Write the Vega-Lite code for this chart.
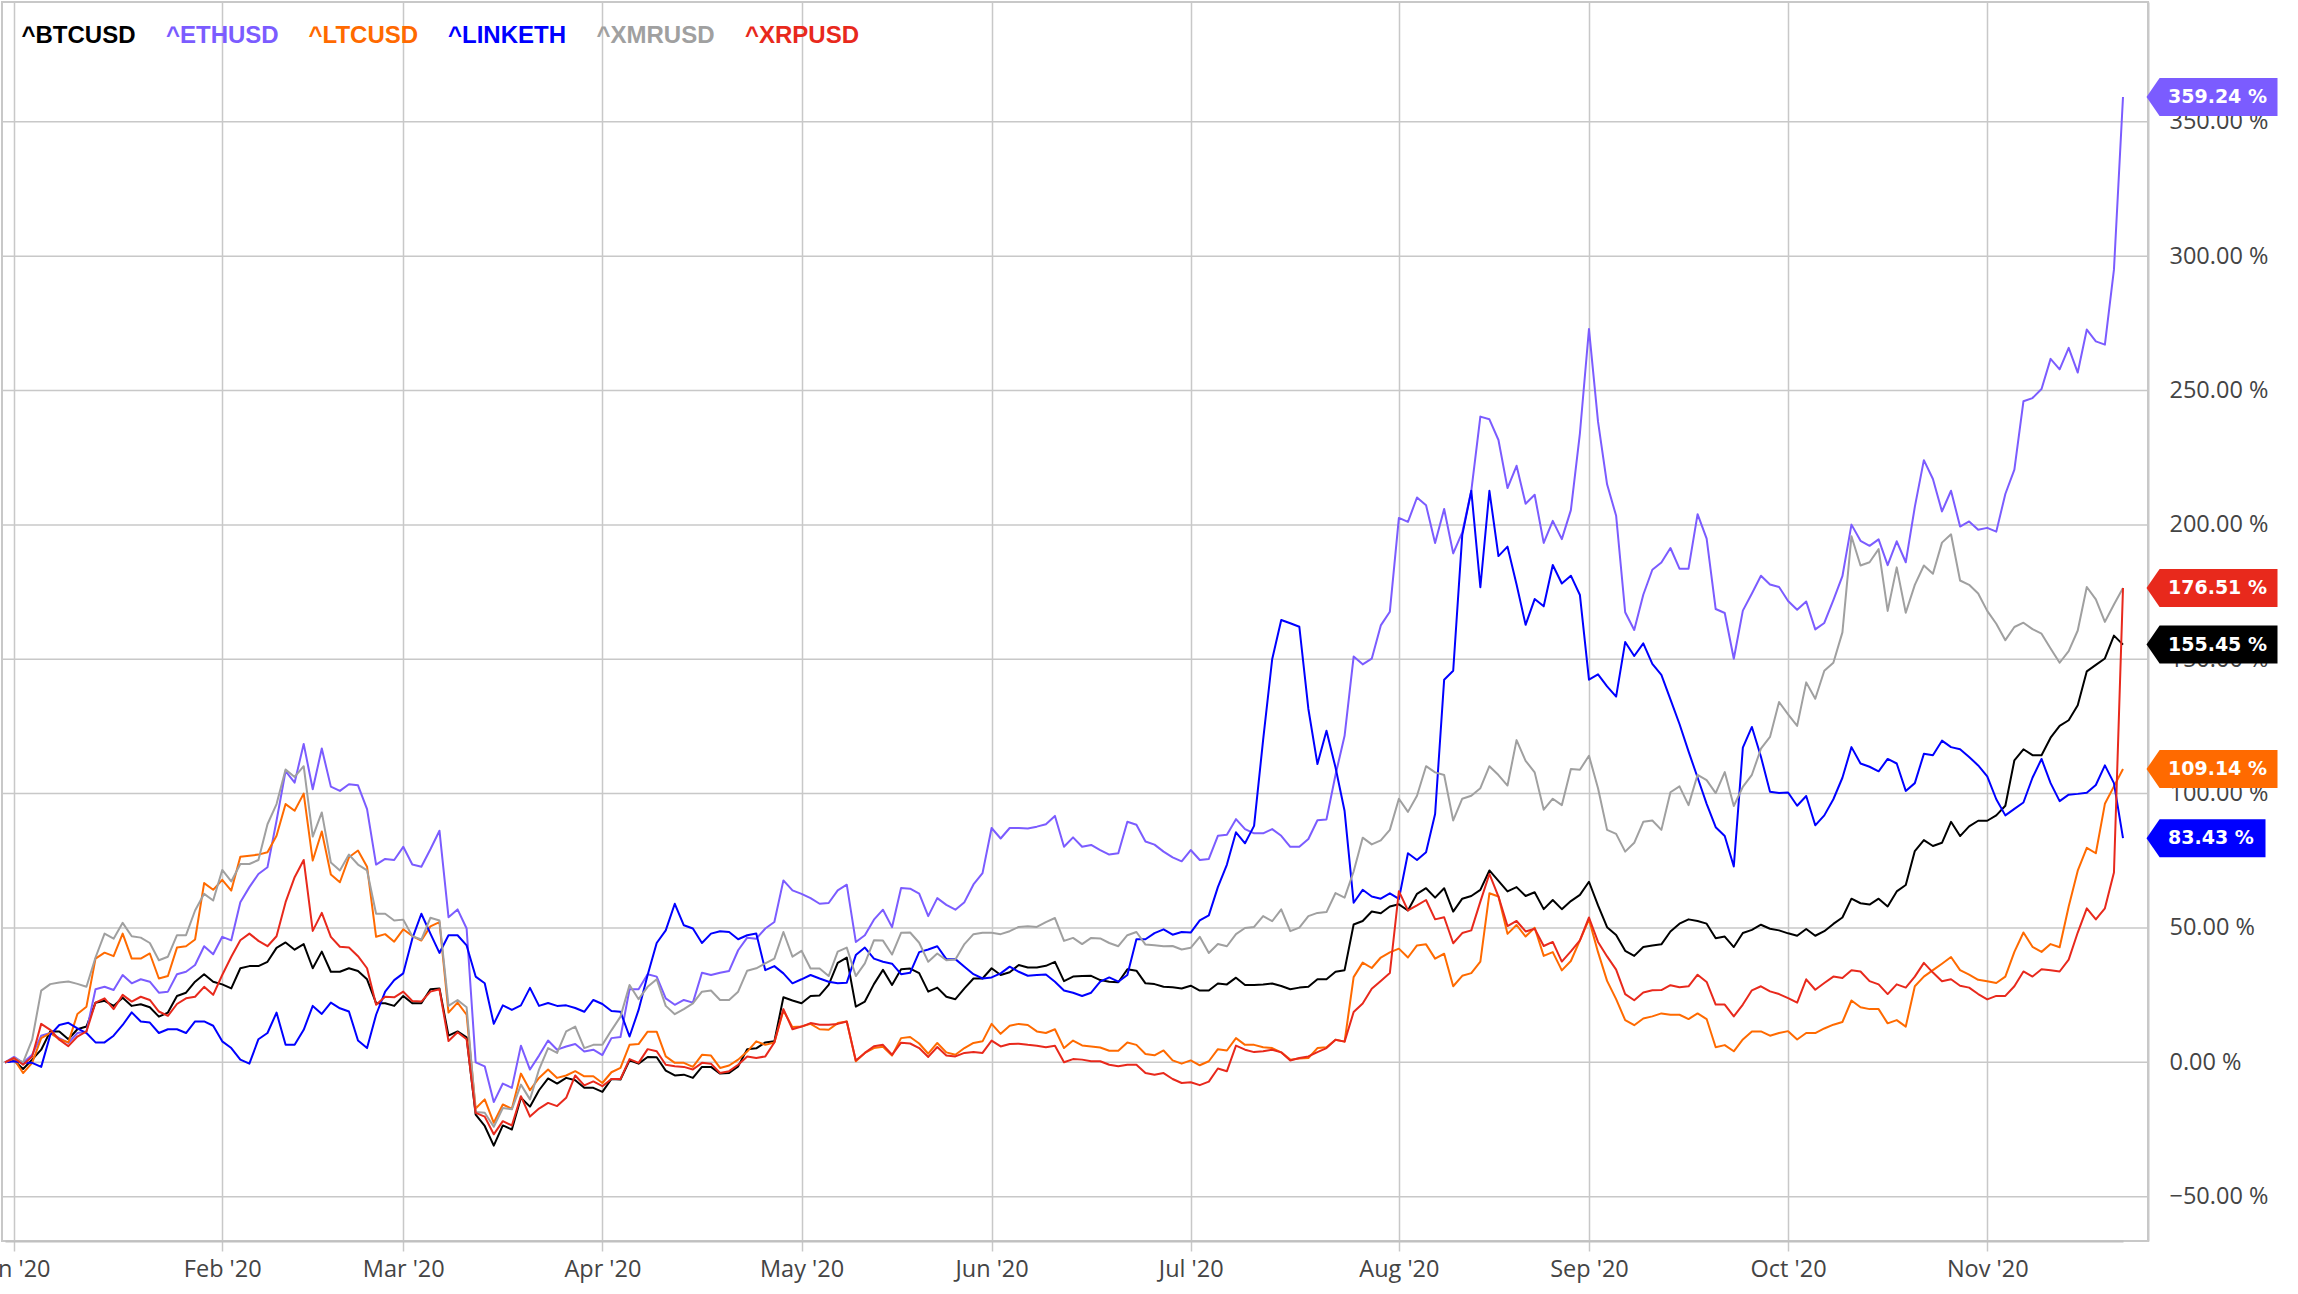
{
"$schema": "https://vega.github.io/schema/vega-lite/v6.json",
"width": 2146,
"height": 1239,
"autosize": {"type": "none"},
"padding": {"left": 2, "top": 2, "right": 150, "bottom": 53},
"background": "white",
"config": {"view": {"stroke": "#c8c8c8", "strokeWidth": 2}, "font": "Open Sans", "scale": {"pointPadding": 0}},
"data": {"values": [
{"d":"2019-12-31","BTCUSD":0,"ETHUSD":0,"LTCUSD":0,"LINKETH":0,"XMRUSD":0,"XRPUSD":0},
{"d":"2020-01-01","BTCUSD":0.7,"ETHUSD":2,"LTCUSD":1.2,"LINKETH":0.4,"XMRUSD":1.6,"XRPUSD":1.6},
{"d":"2020-01-02","BTCUSD":-2.5,"ETHUSD":-0.2,"LTCUSD":-4,"LINKETH":-0.2,"XMRUSD":0,"XRPUSD":-0.9},
{"d":"2020-01-03","BTCUSD":1,"ETHUSD":2.8,"LTCUSD":-0.2,"LINKETH":-0.2,"XMRUSD":8.4,"XRPUSD":2.2},
{"d":"2020-01-06","BTCUSD":4.7,"ETHUSD":9.9,"LTCUSD":9,"LINKETH":-1.7,"XMRUSD":26.7,"XRPUSD":14.3},
{"d":"2020-01-07","BTCUSD":11.5,"ETHUSD":10.9,"LTCUSD":10.9,"LINKETH":10.2,"XMRUSD":29.1,"XRPUSD":12.1},
{"d":"2020-01-08","BTCUSD":11.5,"ETHUSD":9,"LTCUSD":8.6,"LINKETH":13.9,"XMRUSD":29.7,"XRPUSD":8.4},
{"d":"2020-01-09","BTCUSD":8.6,"ETHUSD":7.2,"LTCUSD":7.4,"LINKETH":14.7,"XMRUSD":30.1,"XRPUSD":6},
{"d":"2020-01-10","BTCUSD":12.3,"ETHUSD":10.9,"LTCUSD":18,"LINKETH":12.6,"XMRUSD":29.2,"XRPUSD":9.6},
{"d":"2020-01-13","BTCUSD":13.3,"ETHUSD":11.5,"LTCUSD":20.7,"LINKETH":10.9,"XMRUSD":28.1,"XRPUSD":11.5},
{"d":"2020-01-14","BTCUSD":22.2,"ETHUSD":27.2,"LTCUSD":38.6,"LINKETH":7.4,"XMRUSD":39,"XRPUSD":22.2},
{"d":"2020-01-15","BTCUSD":22.9,"ETHUSD":28.1,"LTCUSD":40.8,"LINKETH":7.4,"XMRUSD":47.9,"XRPUSD":23.8},
{"d":"2020-01-16","BTCUSD":21,"ETHUSD":26.9,"LTCUSD":39.5,"LINKETH":9.9,"XMRUSD":46,"XRPUSD":19.8},
{"d":"2020-01-17","BTCUSD":24,"ETHUSD":32.5,"LTCUSD":47.9,"LINKETH":13.9,"XMRUSD":51.9,"XRPUSD":25.1},
{"d":"2020-01-20","BTCUSD":21,"ETHUSD":29.4,"LTCUSD":38.6,"LINKETH":18.6,"XMRUSD":46.9,"XRPUSD":22.6},
{"d":"2020-01-21","BTCUSD":21.6,"ETHUSD":30.9,"LTCUSD":38.6,"LINKETH":15.2,"XMRUSD":46.4,"XRPUSD":24.4},
{"d":"2020-01-22","BTCUSD":20.5,"ETHUSD":30,"LTCUSD":40.5,"LINKETH":14.8,"XMRUSD":44.4,"XRPUSD":23.2},
{"d":"2020-01-23","BTCUSD":17,"ETHUSD":25.9,"LTCUSD":31.2,"LINKETH":10.9,"XMRUSD":38,"XRPUSD":18.9},
{"d":"2020-01-24","BTCUSD":18.5,"ETHUSD":26.3,"LTCUSD":32.1,"LINKETH":12.3,"XMRUSD":39.3,"XRPUSD":17.3},
{"d":"2020-01-27","BTCUSD":24.7,"ETHUSD":32.8,"LTCUSD":42.7,"LINKETH":12.3,"XMRUSD":47.3,"XRPUSD":21.7},
{"d":"2020-01-28","BTCUSD":25.9,"ETHUSD":33.7,"LTCUSD":43.2,"LINKETH":10.9,"XMRUSD":47.3,"XRPUSD":23.8},
{"d":"2020-01-29","BTCUSD":30,"ETHUSD":36.2,"LTCUSD":45.7,"LINKETH":15.2,"XMRUSD":56.5,"XRPUSD":24.4},
{"d":"2020-01-30","BTCUSD":32.8,"ETHUSD":43.2,"LTCUSD":66.7,"LINKETH":15.2,"XMRUSD":62.7,"XRPUSD":28.1},
{"d":"2020-01-31","BTCUSD":30,"ETHUSD":40.2,"LTCUSD":64.2,"LINKETH":13.6,"XMRUSD":60.2,"XRPUSD":25.1},
{"d":"2020-02-03","BTCUSD":29,"ETHUSD":46.7,"LTCUSD":67.9,"LINKETH":7.8,"XMRUSD":71.6,"XRPUSD":32.5},
{"d":"2020-02-04","BTCUSD":27.5,"ETHUSD":45.4,"LTCUSD":63.9,"LINKETH":5.3,"XMRUSD":67.3,"XRPUSD":39.3},
{"d":"2020-02-05","BTCUSD":35,"ETHUSD":59.6,"LTCUSD":76.5,"LINKETH":1,"XMRUSD":73.8,"XRPUSD":45.4},
{"d":"2020-02-06","BTCUSD":35.8,"ETHUSD":65.2,"LTCUSD":76.9,"LINKETH":-0.5,"XMRUSD":73.8,"XRPUSD":47.9},
{"d":"2020-02-07","BTCUSD":35.8,"ETHUSD":70.1,"LTCUSD":77.3,"LINKETH":8.6,"XMRUSD":75.3,"XRPUSD":45.2},
{"d":"2020-02-10","BTCUSD":37.4,"ETHUSD":72.6,"LTCUSD":78.2,"LINKETH":10.9,"XMRUSD":88.6,"XRPUSD":43.2},
{"d":"2020-02-11","BTCUSD":42.6,"ETHUSD":89.9,"LTCUSD":84.3,"LINKETH":18.5,"XMRUSD":96.1,"XRPUSD":46.9},
{"d":"2020-02-12","BTCUSD":44.6,"ETHUSD":108.4,"LTCUSD":96.1,"LINKETH":6.5,"XMRUSD":109,"XRPUSD":59.6},
{"d":"2020-02-13","BTCUSD":41.9,"ETHUSD":104.1,"LTCUSD":93.6,"LINKETH":6.5,"XMRUSD":106.2,"XRPUSD":68.9},
{"d":"2020-02-14","BTCUSD":44,"ETHUSD":118.5,"LTCUSD":100,"LINKETH":12.1,"XMRUSD":110.2,"XRPUSD":75.3},
{"d":"2020-02-17","BTCUSD":35,"ETHUSD":101.6,"LTCUSD":75.1,"LINKETH":21,"XMRUSD":84,"XRPUSD":48.9},
{"d":"2020-02-18","BTCUSD":41.2,"ETHUSD":116.8,"LTCUSD":85.9,"LINKETH":18,"XMRUSD":93,"XRPUSD":55.6},
{"d":"2020-02-19","BTCUSD":33.7,"ETHUSD":102.6,"LTCUSD":69.9,"LINKETH":22.2,"XMRUSD":74.4,"XRPUSD":46.7},
{"d":"2020-02-20","BTCUSD":33.7,"ETHUSD":101,"LTCUSD":67,"LINKETH":20.1,"XMRUSD":71.4,"XRPUSD":43},
{"d":"2020-02-21","BTCUSD":35,"ETHUSD":103.5,"LTCUSD":76.3,"LINKETH":18.9,"XMRUSD":77.3,"XRPUSD":42.7},
{"d":"2020-02-24","BTCUSD":34,"ETHUSD":103.1,"LTCUSD":78.8,"LINKETH":8.1,"XMRUSD":73.6,"XRPUSD":39.5},
{"d":"2020-02-25","BTCUSD":30.9,"ETHUSD":94.2,"LTCUSD":72.8,"LINKETH":5.3,"XMRUSD":71.4,"XRPUSD":35},
{"d":"2020-02-26","BTCUSD":22,"ETHUSD":73.6,"LTCUSD":46.7,"LINKETH":17.7,"XMRUSD":55.3,"XRPUSD":21.4},
{"d":"2020-02-27","BTCUSD":22,"ETHUSD":75.7,"LTCUSD":47.7,"LINKETH":26.3,"XMRUSD":55.3,"XRPUSD":24.4},
{"d":"2020-02-28","BTCUSD":21,"ETHUSD":75.3,"LTCUSD":44.9,"LINKETH":30.6,"XMRUSD":52.8,"XRPUSD":24.2},
{"d":"2020-03-02","BTCUSD":24.7,"ETHUSD":80.2,"LTCUSD":49.5,"LINKETH":33.1,"XMRUSD":53.1,"XRPUSD":26.3},
{"d":"2020-03-03","BTCUSD":22,"ETHUSD":73.6,"LTCUSD":47,"LINKETH":46,"XMRUSD":46.9,"XRPUSD":22.8},
{"d":"2020-03-04","BTCUSD":22,"ETHUSD":72.8,"LTCUSD":45.3,"LINKETH":55.3,"XMRUSD":45.7,"XRPUSD":22.6},
{"d":"2020-03-05","BTCUSD":27.2,"ETHUSD":79.3,"LTCUSD":50.6,"LINKETH":47.9,"XMRUSD":53.8,"XRPUSD":26.3},
{"d":"2020-03-06","BTCUSD":27.5,"ETHUSD":86.2,"LTCUSD":52.2,"LINKETH":40.7,"XMRUSD":52.8,"XRPUSD":27.2},
{"d":"2020-03-09","BTCUSD":9.9,"ETHUSD":54,"LTCUSD":18.5,"LINKETH":47.3,"XMRUSD":21,"XRPUSD":7.9},
{"d":"2020-03-10","BTCUSD":11.5,"ETHUSD":56.9,"LTCUSD":22.2,"LINKETH":47.3,"XMRUSD":23.2,"XRPUSD":11.2},
{"d":"2020-03-11","BTCUSD":9.3,"ETHUSD":49.8,"LTCUSD":17.7,"LINKETH":43.5,"XMRUSD":20.5,"XRPUSD":8.6},
{"d":"2020-03-12","BTCUSD":-19.5,"ETHUSD":0,"LTCUSD":-17.2,"LINKETH":31.9,"XMRUSD":-18.5,"XRPUSD":-18.8},
{"d":"2020-03-13","BTCUSD":-23.7,"ETHUSD":-1.5,"LTCUSD":-13.8,"LINKETH":29.4,"XMRUSD":-18.8,"XRPUSD":-20.2},
{"d":"2020-03-16","BTCUSD":-31,"ETHUSD":-14.8,"LTCUSD":-22.5,"LINKETH":14.3,"XMRUSD":-24,"XRPUSD":-26.8},
{"d":"2020-03-17","BTCUSD":-23.5,"ETHUSD":-7.9,"LTCUSD":-15.7,"LINKETH":21.2,"XMRUSD":-17,"XRPUSD":-21.9},
{"d":"2020-03-18","BTCUSD":-25,"ETHUSD":-9.5,"LTCUSD":-17.3,"LINKETH":19.5,"XMRUSD":-17.5,"XRPUSD":-23.5},
{"d":"2020-03-19","BTCUSD":-13.2,"ETHUSD":6.2,"LTCUSD":-4.2,"LINKETH":21.2,"XMRUSD":-8.3,"XRPUSD":-12.6},
{"d":"2020-03-20","BTCUSD":-16.5,"ETHUSD":-2.7,"LTCUSD":-10.4,"LINKETH":27.7,"XMRUSD":-13.8,"XRPUSD":-20.2},
{"d":"2020-03-23","BTCUSD":-10.4,"ETHUSD":2.5,"LTCUSD":-5.8,"LINKETH":21,"XMRUSD":-2.7,"XRPUSD":-17.2},
{"d":"2020-03-24","BTCUSD":-6,"ETHUSD":8.1,"LTCUSD":-2.7,"LINKETH":22.1,"XMRUSD":5.3,"XRPUSD":-15.1},
{"d":"2020-03-25","BTCUSD":-7.9,"ETHUSD":4.7,"LTCUSD":-5.8,"LINKETH":21,"XMRUSD":3.5,"XRPUSD":-16.3},
{"d":"2020-03-26","BTCUSD":-5.8,"ETHUSD":5.9,"LTCUSD":-4.9,"LINKETH":21.2,"XMRUSD":11.5,"XRPUSD":-13.2},
{"d":"2020-03-27","BTCUSD":-6.7,"ETHUSD":6.8,"LTCUSD":-3.3,"LINKETH":20.2,"XMRUSD":13.3,"XRPUSD":-4.9},
{"d":"2020-03-30","BTCUSD":-9.5,"ETHUSD":4,"LTCUSD":-5.2,"LINKETH":18.8,"XMRUSD":5.3,"XRPUSD":-8.6},
{"d":"2020-03-31","BTCUSD":-9.5,"ETHUSD":4.7,"LTCUSD":-5.2,"LINKETH":23.2,"XMRUSD":6.5,"XRPUSD":-7.1},
{"d":"2020-04-01","BTCUSD":-11,"ETHUSD":2.7,"LTCUSD":-7.7,"LINKETH":21.7,"XMRUSD":6.5,"XRPUSD":-8.9},
{"d":"2020-04-02","BTCUSD":-6.2,"ETHUSD":9,"LTCUSD":-3.7,"LINKETH":19.1,"XMRUSD":11.9,"XRPUSD":-6.2},
{"d":"2020-04-03","BTCUSD":-6.4,"ETHUSD":9.4,"LTCUSD":-2.1,"LINKETH":18.8,"XMRUSD":17,"XRPUSD":-6.2},
{"d":"2020-04-06","BTCUSD":0.7,"ETHUSD":27.2,"LTCUSD":6.5,"LINKETH":9.6,"XMRUSD":28.8,"XRPUSD":1.2},
{"d":"2020-04-07","BTCUSD":-0.5,"ETHUSD":27.2,"LTCUSD":6.8,"LINKETH":19.5,"XMRUSD":23.5,"XRPUSD":-0.2},
{"d":"2020-04-08","BTCUSD":2,"ETHUSD":32.8,"LTCUSD":11.4,"LINKETH":32.5,"XMRUSD":28.1,"XRPUSD":4.9},
{"d":"2020-04-09","BTCUSD":1.9,"ETHUSD":31.9,"LTCUSD":11.4,"LINKETH":44.4,"XMRUSD":30.9,"XRPUSD":4.1},
{"d":"2020-04-10","BTCUSD":-3.1,"ETHUSD":23.8,"LTCUSD":2.2,"LINKETH":49.1,"XMRUSD":21,"XRPUSD":-0.9},
{"d":"2020-04-13","BTCUSD":-4.9,"ETHUSD":21.4,"LTCUSD":-0.2,"LINKETH":59,"XMRUSD":17.9,"XRPUSD":-1.5},
{"d":"2020-04-14","BTCUSD":-4.6,"ETHUSD":23.2,"LTCUSD":-0.2,"LINKETH":51,"XMRUSD":19.8,"XRPUSD":-1.7},
{"d":"2020-04-15","BTCUSD":-5.8,"ETHUSD":22.2,"LTCUSD":-1.7,"LINKETH":49.8,"XMRUSD":21.9,"XRPUSD":-2.7},
{"d":"2020-04-16","BTCUSD":-1.7,"ETHUSD":33.3,"LTCUSD":2.8,"LINKETH":44.4,"XMRUSD":26.3,"XRPUSD":-0.2},
{"d":"2020-04-17","BTCUSD":-1.7,"ETHUSD":32.5,"LTCUSD":2.5,"LINKETH":47.9,"XMRUSD":26.7,"XRPUSD":-0.5},
{"d":"2020-04-20","BTCUSD":-4.2,"ETHUSD":33.3,"LTCUSD":-2.1,"LINKETH":48.8,"XMRUSD":23.2,"XRPUSD":-4},
{"d":"2020-04-21","BTCUSD":-4,"ETHUSD":34,"LTCUSD":-1.2,"LINKETH":48.5,"XMRUSD":23.2,"XRPUSD":-3.3},
{"d":"2020-04-22","BTCUSD":-1.5,"ETHUSD":41.7,"LTCUSD":1,"LINKETH":45.8,"XMRUSD":26.3,"XRPUSD":-0.9},
{"d":"2020-04-23","BTCUSD":4.9,"ETHUSD":46.4,"LTCUSD":4,"LINKETH":47.3,"XMRUSD":34.1,"XRPUSD":2.2},
{"d":"2020-04-24","BTCUSD":5.2,"ETHUSD":46,"LTCUSD":7.8,"LINKETH":47.9,"XMRUSD":35,"XRPUSD":1.6},
{"d":"2020-04-27","BTCUSD":7.4,"ETHUSD":49.8,"LTCUSD":6.5,"LINKETH":34.3,"XMRUSD":36.8,"XRPUSD":2.2},
{"d":"2020-04-28","BTCUSD":7.8,"ETHUSD":52.2,"LTCUSD":7.4,"LINKETH":35.8,"XMRUSD":38.6,"XRPUSD":7.4},
{"d":"2020-04-29","BTCUSD":24.2,"ETHUSD":67.7,"LTCUSD":19.3,"LINKETH":33.1,"XMRUSD":48.5,"XRPUSD":19.8},
{"d":"2020-04-30","BTCUSD":23,"ETHUSD":64,"LTCUSD":13.1,"LINKETH":29.4,"XMRUSD":39.3,"XRPUSD":12.3},
{"d":"2020-05-01","BTCUSD":22,"ETHUSD":62.7,"LTCUSD":13.3,"LINKETH":30.9,"XMRUSD":41.5,"XRPUSD":13.3},
{"d":"2020-05-04","BTCUSD":24.7,"ETHUSD":61.1,"LTCUSD":14.3,"LINKETH":32.5,"XMRUSD":34.9,"XRPUSD":14.6},
{"d":"2020-05-05","BTCUSD":24.9,"ETHUSD":59,"LTCUSD":12.3,"LINKETH":31.2,"XMRUSD":34.9,"XRPUSD":14},
{"d":"2020-05-06","BTCUSD":28.8,"ETHUSD":59.3,"LTCUSD":12.1,"LINKETH":30,"XMRUSD":32.1,"XRPUSD":14},
{"d":"2020-05-07","BTCUSD":37,"ETHUSD":64,"LTCUSD":14.6,"LINKETH":29.4,"XMRUSD":41.2,"XRPUSD":14.3},
{"d":"2020-05-08","BTCUSD":39,"ETHUSD":66.1,"LTCUSD":15.2,"LINKETH":29.6,"XMRUSD":42.7,"XRPUSD":15.2},
{"d":"2020-05-11","BTCUSD":20.7,"ETHUSD":44.8,"LTCUSD":0.4,"LINKETH":39.9,"XMRUSD":32.1,"XRPUSD":0.7},
{"d":"2020-05-12","BTCUSD":22.6,"ETHUSD":47.3,"LTCUSD":3.5,"LINKETH":42.7,"XMRUSD":36.8,"XRPUSD":3.5},
{"d":"2020-05-13","BTCUSD":29.1,"ETHUSD":53.1,"LTCUSD":5.3,"LINKETH":38.6,"XMRUSD":45.4,"XRPUSD":6},
{"d":"2020-05-14","BTCUSD":34.4,"ETHUSD":56.8,"LTCUSD":5.8,"LINKETH":37.4,"XMRUSD":45.3,"XRPUSD":6.5},
{"d":"2020-05-15","BTCUSD":28.8,"ETHUSD":50.3,"LTCUSD":2.5,"LINKETH":36.7,"XMRUSD":40.1,"XRPUSD":2.8},
{"d":"2020-05-18","BTCUSD":34.6,"ETHUSD":64.9,"LTCUSD":9,"LINKETH":32.8,"XMRUSD":48.2,"XRPUSD":7.3},
{"d":"2020-05-19","BTCUSD":34.9,"ETHUSD":64.6,"LTCUSD":9.4,"LINKETH":33.3,"XMRUSD":48.3,"XRPUSD":7},
{"d":"2020-05-20","BTCUSD":33.2,"ETHUSD":62.8,"LTCUSD":7,"LINKETH":41,"XMRUSD":44.5,"XRPUSD":5.3},
{"d":"2020-05-21","BTCUSD":26.3,"ETHUSD":54.4,"LTCUSD":3.2,"LINKETH":42,"XMRUSD":37.4,"XRPUSD":2},
{"d":"2020-05-22","BTCUSD":27.8,"ETHUSD":61.1,"LTCUSD":7.2,"LINKETH":43.2,"XMRUSD":40.5,"XRPUSD":5.7},
{"d":"2020-05-25","BTCUSD":24.4,"ETHUSD":58.6,"LTCUSD":3.7,"LINKETH":38.4,"XMRUSD":38,"XRPUSD":2.5},
{"d":"2020-05-26","BTCUSD":23.5,"ETHUSD":56.8,"LTCUSD":2.8,"LINKETH":38.4,"XMRUSD":38.3,"XRPUSD":2.2},
{"d":"2020-05-27","BTCUSD":27.5,"ETHUSD":59.6,"LTCUSD":5.3,"LINKETH":35.6,"XMRUSD":44,"XRPUSD":3.5},
{"d":"2020-05-28","BTCUSD":31.2,"ETHUSD":66.2,"LTCUSD":7.2,"LINKETH":32.8,"XMRUSD":47.7,"XRPUSD":3.8},
{"d":"2020-05-29","BTCUSD":31.2,"ETHUSD":70.4,"LTCUSD":7.8,"LINKETH":31.2,"XMRUSD":48.2,"XRPUSD":3.5},
{"d":"2020-06-01","BTCUSD":35,"ETHUSD":87.2,"LTCUSD":14.3,"LINKETH":31.6,"XMRUSD":48.2,"XRPUSD":8.1},
{"d":"2020-06-02","BTCUSD":32.5,"ETHUSD":83.3,"LTCUSD":10.6,"LINKETH":33.1,"XMRUSD":47.7,"XRPUSD":5.9},
{"d":"2020-06-03","BTCUSD":33.5,"ETHUSD":87.2,"LTCUSD":13.6,"LINKETH":35.6,"XMRUSD":48.8,"XRPUSD":6.8},
{"d":"2020-06-04","BTCUSD":36.2,"ETHUSD":87.2,"LTCUSD":14.3,"LINKETH":33.7,"XMRUSD":50.4,"XRPUSD":6.9},
{"d":"2020-06-05","BTCUSD":35.3,"ETHUSD":87,"LTCUSD":13.9,"LINKETH":32.2,"XMRUSD":50.6,"XRPUSD":6.5},
{"d":"2020-06-08","BTCUSD":35.3,"ETHUSD":87.7,"LTCUSD":11.5,"LINKETH":32.5,"XMRUSD":50.4,"XRPUSD":6.2},
{"d":"2020-06-09","BTCUSD":35.9,"ETHUSD":88.6,"LTCUSD":10.9,"LINKETH":32.7,"XMRUSD":52.2,"XRPUSD":5.6},
{"d":"2020-06-10","BTCUSD":37.4,"ETHUSD":91.7,"LTCUSD":12.3,"LINKETH":30,"XMRUSD":53.7,"XRPUSD":6.2},
{"d":"2020-06-11","BTCUSD":30.2,"ETHUSD":80.2,"LTCUSD":5.3,"LINKETH":26.7,"XMRUSD":45.2,"XRPUSD":0},
{"d":"2020-06-12","BTCUSD":31.9,"ETHUSD":83.7,"LTCUSD":8.1,"LINKETH":25.9,"XMRUSD":46.3,"XRPUSD":1.2},
{"d":"2020-06-15","BTCUSD":32.1,"ETHUSD":80.2,"LTCUSD":6.3,"LINKETH":24.7,"XMRUSD":44,"XRPUSD":1},
{"d":"2020-06-16","BTCUSD":32.2,"ETHUSD":80.9,"LTCUSD":5.9,"LINKETH":25.9,"XMRUSD":46.3,"XRPUSD":0.4},
{"d":"2020-06-17","BTCUSD":30.6,"ETHUSD":79,"LTCUSD":5.5,"LINKETH":30,"XMRUSD":46.1,"XRPUSD":0.4},
{"d":"2020-06-18","BTCUSD":30,"ETHUSD":77.3,"LTCUSD":4.3,"LINKETH":31.6,"XMRUSD":44.4,"XRPUSD":-0.9},
{"d":"2020-06-19","BTCUSD":29.8,"ETHUSD":77.8,"LTCUSD":4.3,"LINKETH":30,"XMRUSD":43.2,"XRPUSD":-1.5},
{"d":"2020-06-22","BTCUSD":34.6,"ETHUSD":89.5,"LTCUSD":7.4,"LINKETH":32.5,"XMRUSD":47.3,"XRPUSD":-0.9},
{"d":"2020-06-23","BTCUSD":34.1,"ETHUSD":88.4,"LTCUSD":6.5,"LINKETH":45.8,"XMRUSD":48.5,"XRPUSD":-0.9},
{"d":"2020-06-24","BTCUSD":29.4,"ETHUSD":82.2,"LTCUSD":3.1,"LINKETH":45.8,"XMRUSD":43.8,"XRPUSD":-4},
{"d":"2020-06-25","BTCUSD":29.1,"ETHUSD":81,"LTCUSD":2.6,"LINKETH":48.1,"XMRUSD":43.6,"XRPUSD":-4.6},
{"d":"2020-06-26","BTCUSD":28.1,"ETHUSD":78.4,"LTCUSD":4.4,"LINKETH":49.5,"XMRUSD":43.2,"XRPUSD":-4},
{"d":"2020-06-29","BTCUSD":27.9,"ETHUSD":76.3,"LTCUSD":0.7,"LINKETH":47.5,"XMRUSD":43.3,"XRPUSD":-6.2},
{"d":"2020-06-30","BTCUSD":27.5,"ETHUSD":74.8,"LTCUSD":-0.5,"LINKETH":48.5,"XMRUSD":42,"XRPUSD":-7.7},
{"d":"2020-07-01","BTCUSD":28.5,"ETHUSD":79,"LTCUSD":0.7,"LINKETH":48.3,"XMRUSD":42.6,"XRPUSD":-7.4},
{"d":"2020-07-02","BTCUSD":26.7,"ETHUSD":75.3,"LTCUSD":-1.1,"LINKETH":52.8,"XMRUSD":46.7,"XRPUSD":-8.5},
{"d":"2020-07-03","BTCUSD":26.7,"ETHUSD":75.7,"LTCUSD":0.4,"LINKETH":54.7,"XMRUSD":40.7,"XRPUSD":-7.2},
{"d":"2020-07-06","BTCUSD":29.3,"ETHUSD":84.3,"LTCUSD":4.9,"LINKETH":65.2,"XMRUSD":44,"XRPUSD":-2.3},
{"d":"2020-07-07","BTCUSD":29,"ETHUSD":84.7,"LTCUSD":4.4,"LINKETH":73.6,"XMRUSD":43.2,"XRPUSD":-3.3},
{"d":"2020-07-08","BTCUSD":31.5,"ETHUSD":90.5,"LTCUSD":9,"LINKETH":85.6,"XMRUSD":47.7,"XRPUSD":6.2},
{"d":"2020-07-09","BTCUSD":28.8,"ETHUSD":86.8,"LTCUSD":6.5,"LINKETH":81.5,"XMRUSD":50,"XRPUSD":4.7},
{"d":"2020-07-10","BTCUSD":28.8,"ETHUSD":85.2,"LTCUSD":6.5,"LINKETH":88,"XMRUSD":50.4,"XRPUSD":3.8},
{"d":"2020-07-13","BTCUSD":29,"ETHUSD":85.2,"LTCUSD":5.6,"LINKETH":120,"XMRUSD":54.4,"XRPUSD":4.1},
{"d":"2020-07-14","BTCUSD":29.3,"ETHUSD":86.8,"LTCUSD":5.3,"LINKETH":150,"XMRUSD":52.5,"XRPUSD":4.7},
{"d":"2020-07-15","BTCUSD":28.4,"ETHUSD":84.3,"LTCUSD":3.7,"LINKETH":164.6,"XMRUSD":56.9,"XRPUSD":3.7},
{"d":"2020-07-16","BTCUSD":27.2,"ETHUSD":80.2,"LTCUSD":1,"LINKETH":163.4,"XMRUSD":48.8,"XRPUSD":0.7},
{"d":"2020-07-17","BTCUSD":27.8,"ETHUSD":80.2,"LTCUSD":1.4,"LINKETH":162.1,"XMRUSD":50.1,"XRPUSD":1.6},
{"d":"2020-07-20","BTCUSD":28.1,"ETHUSD":83.1,"LTCUSD":1.6,"LINKETH":131.5,"XMRUSD":54.4,"XRPUSD":2.2},
{"d":"2020-07-21","BTCUSD":30.9,"ETHUSD":90.1,"LTCUSD":5.3,"LINKETH":111,"XMRUSD":55.6,"XRPUSD":3.8},
{"d":"2020-07-22","BTCUSD":30.9,"ETHUSD":90.4,"LTCUSD":5.6,"LINKETH":123.4,"XMRUSD":55.9,"XRPUSD":5.3},
{"d":"2020-07-23","BTCUSD":33.7,"ETHUSD":107,"LTCUSD":8.4,"LINKETH":109.7,"XMRUSD":63,"XRPUSD":8.4},
{"d":"2020-07-24","BTCUSD":34.3,"ETHUSD":121.5,"LTCUSD":7.7,"LINKETH":93.5,"XMRUSD":61.3,"XRPUSD":7.7},
{"d":"2020-07-27","BTCUSD":51.3,"ETHUSD":151,"LTCUSD":31.7,"LINKETH":59.4,"XMRUSD":71,"XRPUSD":18.7},
{"d":"2020-07-28","BTCUSD":52.6,"ETHUSD":148.1,"LTCUSD":37.1,"LINKETH":64.2,"XMRUSD":83.6,"XRPUSD":21.9},
{"d":"2020-07-29","BTCUSD":56.1,"ETHUSD":150.2,"LTCUSD":35.1,"LINKETH":61.7,"XMRUSD":81.1,"XRPUSD":27.4},
{"d":"2020-07-30","BTCUSD":55.5,"ETHUSD":162.6,"LTCUSD":39,"LINKETH":60.9,"XMRUSD":82.6,"XRPUSD":30.3},
{"d":"2020-07-31","BTCUSD":58,"ETHUSD":167.7,"LTCUSD":40.9,"LINKETH":62.9,"XMRUSD":86.5,"XRPUSD":33.2},
{"d":"2020-08-03","BTCUSD":58.8,"ETHUSD":202.6,"LTCUSD":42.3,"LINKETH":60.8,"XMRUSD":98.1,"XRPUSD":63.7},
{"d":"2020-08-04","BTCUSD":56.5,"ETHUSD":201.1,"LTCUSD":39,"LINKETH":77.8,"XMRUSD":93.2,"XRPUSD":56.5},
{"d":"2020-08-05","BTCUSD":62.7,"ETHUSD":210.2,"LTCUSD":43.5,"LINKETH":75.3,"XMRUSD":99.2,"XRPUSD":58.4},
{"d":"2020-08-06","BTCUSD":64.8,"ETHUSD":207.3,"LTCUSD":43.9,"LINKETH":78.2,"XMRUSD":110.2,"XRPUSD":60.4},
{"d":"2020-08-07","BTCUSD":61.3,"ETHUSD":193.3,"LTCUSD":38.6,"LINKETH":92.4,"XMRUSD":107.9,"XRPUSD":53.2},
{"d":"2020-08-10","BTCUSD":64.8,"ETHUSD":205.9,"LTCUSD":40.4,"LINKETH":142.4,"XMRUSD":106.9,"XRPUSD":54},
{"d":"2020-08-11","BTCUSD":56.1,"ETHUSD":189.4,"LTCUSD":28.3,"LINKETH":145.7,"XMRUSD":90,"XRPUSD":44.3},
{"d":"2020-08-12","BTCUSD":60.9,"ETHUSD":197.2,"LTCUSD":32.2,"LINKETH":196.2,"XMRUSD":98.1,"XRPUSD":48.1},
{"d":"2020-08-13","BTCUSD":61.9,"ETHUSD":212.7,"LTCUSD":33.2,"LINKETH":212.7,"XMRUSD":99.2,"XRPUSD":49.1},
{"d":"2020-08-14","BTCUSD":64.2,"ETHUSD":240.3,"LTCUSD":37.5,"LINKETH":176.8,"XMRUSD":102,"XRPUSD":59.8},
{"d":"2020-08-17","BTCUSD":71.4,"ETHUSD":239.3,"LTCUSD":62.9,"LINKETH":212.7,"XMRUSD":110.2,"XRPUSD":70.1},
{"d":"2020-08-18","BTCUSD":67.5,"ETHUSD":231.6,"LTCUSD":61.7,"LINKETH":188.4,"XMRUSD":106.9,"XRPUSD":61.7},
{"d":"2020-08-19","BTCUSD":63.6,"ETHUSD":213.7,"LTCUSD":47.8,"LINKETH":191.9,"XMRUSD":103,"XRPUSD":50.7},
{"d":"2020-08-20","BTCUSD":65.2,"ETHUSD":222,"LTCUSD":51.1,"LINKETH":177.8,"XMRUSD":119.9,"XRPUSD":52.6},
{"d":"2020-08-21","BTCUSD":61.9,"ETHUSD":207.9,"LTCUSD":46.8,"LINKETH":162.8,"XMRUSD":112.2,"XRPUSD":48.7},
{"d":"2020-08-24","BTCUSD":63.3,"ETHUSD":211.2,"LTCUSD":50.1,"LINKETH":172.4,"XMRUSD":107.9,"XRPUSD":49.7},
{"d":"2020-08-25","BTCUSD":57,"ETHUSD":193.3,"LTCUSD":39.6,"LINKETH":169.7,"XMRUSD":94,"XRPUSD":43.3},
{"d":"2020-08-26","BTCUSD":60.4,"ETHUSD":201.5,"LTCUSD":41,"LINKETH":185.1,"XMRUSD":98.1,"XRPUSD":44.8},
{"d":"2020-08-27","BTCUSD":57,"ETHUSD":194.7,"LTCUSD":34.2,"LINKETH":178.2,"XMRUSD":95.7,"XRPUSD":37.5},
{"d":"2020-08-28","BTCUSD":60,"ETHUSD":205.5,"LTCUSD":37.7,"LINKETH":181.1,"XMRUSD":109.2,"XRPUSD":41.3},
{"d":"2020-08-31","BTCUSD":62.3,"ETHUSD":234.1,"LTCUSD":45.4,"LINKETH":173.9,"XMRUSD":108.9,"XRPUSD":45.4},
{"d":"2020-09-01","BTCUSD":67.2,"ETHUSD":272.9,"LTCUSD":53.2,"LINKETH":142.4,"XMRUSD":114.1,"XRPUSD":53.9},
{"d":"2020-09-02","BTCUSD":58.4,"ETHUSD":238.4,"LTCUSD":41,"LINKETH":144.4,"XMRUSD":102,"XRPUSD":44.8},
{"d":"2020-09-03","BTCUSD":50.3,"ETHUSD":215.1,"LTCUSD":30.3,"LINKETH":139.9,"XMRUSD":86.5,"XRPUSD":39.4},
{"d":"2020-09-04","BTCUSD":47.4,"ETHUSD":203.4,"LTCUSD":23.5,"LINKETH":136.1,"XMRUSD":85,"XRPUSD":34.5},
{"d":"2020-09-07","BTCUSD":41.5,"ETHUSD":167.5,"LTCUSD":15.7,"LINKETH":156.4,"XMRUSD":78.4,"XRPUSD":25.4},
{"d":"2020-09-08","BTCUSD":39.6,"ETHUSD":160.9,"LTCUSD":13.8,"LINKETH":151.2,"XMRUSD":81.7,"XRPUSD":23.1},
{"d":"2020-09-09","BTCUSD":42.9,"ETHUSD":174,"LTCUSD":16.3,"LINKETH":155.9,"XMRUSD":89.5,"XRPUSD":26},
{"d":"2020-09-10","BTCUSD":43.5,"ETHUSD":183.3,"LTCUSD":17.1,"LINKETH":148.3,"XMRUSD":90,"XRPUSD":26.8},
{"d":"2020-09-11","BTCUSD":43.9,"ETHUSD":186,"LTCUSD":18.2,"LINKETH":144.2,"XMRUSD":86.5,"XRPUSD":26.9},
{"d":"2020-09-14","BTCUSD":48.7,"ETHUSD":191.4,"LTCUSD":17.7,"LINKETH":135.1,"XMRUSD":100.5,"XRPUSD":28.7},
{"d":"2020-09-15","BTCUSD":51.6,"ETHUSD":183.7,"LTCUSD":17.7,"LINKETH":125.9,"XMRUSD":102.7,"XRPUSD":27.9},
{"d":"2020-09-16","BTCUSD":53.2,"ETHUSD":183.7,"LTCUSD":16.1,"LINKETH":115.7,"XMRUSD":95.7,"XRPUSD":28.3},
{"d":"2020-09-17","BTCUSD":52.6,"ETHUSD":204,"LTCUSD":18.2,"LINKETH":106,"XMRUSD":107,"XRPUSD":32.6},
{"d":"2020-09-18","BTCUSD":51.6,"ETHUSD":194.9,"LTCUSD":16.1,"LINKETH":96.2,"XMRUSD":105,"XRPUSD":29.9},
{"d":"2020-09-21","BTCUSD":46.2,"ETHUSD":168.7,"LTCUSD":5.6,"LINKETH":87.5,"XMRUSD":100.2,"XRPUSD":21.5},
{"d":"2020-09-22","BTCUSD":46.8,"ETHUSD":167.2,"LTCUSD":6.4,"LINKETH":84.2,"XMRUSD":108,"XRPUSD":21.5},
{"d":"2020-09-23","BTCUSD":42.9,"ETHUSD":150.2,"LTCUSD":4.1,"LINKETH":72.9,"XMRUSD":95.4,"XRPUSD":17.1},
{"d":"2020-09-24","BTCUSD":48.1,"ETHUSD":168.1,"LTCUSD":8.5,"LINKETH":117.1,"XMRUSD":102.5,"XRPUSD":21.5},
{"d":"2020-09-25","BTCUSD":49.3,"ETHUSD":174.5,"LTCUSD":11.5,"LINKETH":124.8,"XMRUSD":107,"XRPUSD":26.8},
{"d":"2020-09-28","BTCUSD":51.2,"ETHUSD":181.1,"LTCUSD":11.5,"LINKETH":113.7,"XMRUSD":116.7,"XRPUSD":28.3},
{"d":"2020-09-29","BTCUSD":49.7,"ETHUSD":177.8,"LTCUSD":9.9,"LINKETH":100.7,"XMRUSD":121.1,"XRPUSD":26.4},
{"d":"2020-09-30","BTCUSD":49.1,"ETHUSD":176.9,"LTCUSD":10.9,"LINKETH":100.2,"XMRUSD":134.1,"XRPUSD":25.4},
{"d":"2020-10-01","BTCUSD":48,"ETHUSD":171.7,"LTCUSD":11.6,"LINKETH":100.4,"XMRUSD":129.5,"XRPUSD":23.9},
{"d":"2020-10-02","BTCUSD":47.1,"ETHUSD":168.4,"LTCUSD":8.5,"LINKETH":95.5,"XMRUSD":125.2,"XRPUSD":22.2},
{"d":"2020-10-05","BTCUSD":49.6,"ETHUSD":171.5,"LTCUSD":10.9,"LINKETH":99.1,"XMRUSD":141.4,"XRPUSD":30.9},
{"d":"2020-10-06","BTCUSD":47.1,"ETHUSD":161.1,"LTCUSD":10.9,"LINKETH":88.2,"XMRUSD":135.3,"XRPUSD":27},
{"d":"2020-10-07","BTCUSD":48.8,"ETHUSD":163.5,"LTCUSD":12.6,"LINKETH":91.9,"XMRUSD":145.7,"XRPUSD":29.5},
{"d":"2020-10-08","BTCUSD":51.5,"ETHUSD":172,"LTCUSD":14,"LINKETH":97.9,"XMRUSD":148.7,"XRPUSD":31.9},
{"d":"2020-10-09","BTCUSD":53.9,"ETHUSD":180.9,"LTCUSD":15,"LINKETH":105.9,"XMRUSD":160,"XRPUSD":31.4},
{"d":"2020-10-12","BTCUSD":60.9,"ETHUSD":200.1,"LTCUSD":23,"LINKETH":117.3,"XMRUSD":195.8,"XRPUSD":34.3},
{"d":"2020-10-13","BTCUSD":59.2,"ETHUSD":194.1,"LTCUSD":20.5,"LINKETH":111.2,"XMRUSD":184.9,"XRPUSD":33.8},
{"d":"2020-10-14","BTCUSD":58.7,"ETHUSD":192.2,"LTCUSD":19.8,"LINKETH":110,"XMRUSD":186.1,"XRPUSD":30.2},
{"d":"2020-10-15","BTCUSD":60.9,"ETHUSD":194.6,"LTCUSD":19.8,"LINKETH":108.3,"XMRUSD":191,"XRPUSD":29},
{"d":"2020-10-16","BTCUSD":58,"ETHUSD":185,"LTCUSD":14.5,"LINKETH":112.9,"XMRUSD":168,"XRPUSD":25.4},
{"d":"2020-10-19","BTCUSD":63.6,"ETHUSD":193.9,"LTCUSD":15.7,"LINKETH":111.2,"XMRUSD":184.2,"XRPUSD":29},
{"d":"2020-10-20","BTCUSD":66,"ETHUSD":186.1,"LTCUSD":13.3,"LINKETH":101,"XMRUSD":167.3,"XRPUSD":27.8},
{"d":"2020-10-21","BTCUSD":78.6,"ETHUSD":206.7,"LTCUSD":28.3,"LINKETH":103.9,"XMRUSD":177.7,"XRPUSD":31.9},
{"d":"2020-10-22","BTCUSD":82.7,"ETHUSD":224.1,"LTCUSD":31.9,"LINKETH":114.8,"XMRUSD":184.9,"XRPUSD":37},
{"d":"2020-10-23","BTCUSD":80.5,"ETHUSD":217.1,"LTCUSD":34.3,"LINKETH":114.3,"XMRUSD":181.8,"XRPUSD":33.4},
{"d":"2020-10-26","BTCUSD":81.7,"ETHUSD":205,"LTCUSD":36.7,"LINKETH":119.7,"XMRUSD":193.4,"XRPUSD":30.2},
{"d":"2020-10-27","BTCUSD":89.5,"ETHUSD":212.7,"LTCUSD":39.2,"LINKETH":117.3,"XMRUSD":196.5,"XRPUSD":30.9},
{"d":"2020-10-28","BTCUSD":84.2,"ETHUSD":199.4,"LTCUSD":34.3,"LINKETH":116.5,"XMRUSD":179.3,"XRPUSD":28.5},
{"d":"2020-10-29","BTCUSD":87.8,"ETHUSD":201.3,"LTCUSD":32.6,"LINKETH":113.6,"XMRUSD":177.7,"XRPUSD":27.8},
{"d":"2020-10-30","BTCUSD":89.9,"ETHUSD":198.2,"LTCUSD":30.7,"LINKETH":110.5,"XMRUSD":174.5,"XRPUSD":25.4},
{"d":"2020-11-02","BTCUSD":89.9,"ETHUSD":198.9,"LTCUSD":30.2,"LINKETH":106.4,"XMRUSD":168,"XRPUSD":23.4},
{"d":"2020-11-03","BTCUSD":91.9,"ETHUSD":197.5,"LTCUSD":29.5,"LINKETH":97.9,"XMRUSD":163.2,"XRPUSD":24.7},
{"d":"2020-11-04","BTCUSD":95.5,"ETHUSD":211.5,"LTCUSD":31.9,"LINKETH":91.9,"XMRUSD":157.1,"XRPUSD":24.7},
{"d":"2020-11-05","BTCUSD":112.4,"ETHUSD":220.6,"LTCUSD":41.1,"LINKETH":94.3,"XMRUSD":162,"XRPUSD":28.3},
{"d":"2020-11-06","BTCUSD":116.5,"ETHUSD":246,"LTCUSD":48.3,"LINKETH":96.7,"XMRUSD":163.6,"XRPUSD":33.8},
{"d":"2020-11-09","BTCUSD":114.3,"ETHUSD":247.2,"LTCUSD":43,"LINKETH":105.9,"XMRUSD":161.2,"XRPUSD":31.9},
{"d":"2020-11-10","BTCUSD":114.3,"ETHUSD":250.6,"LTCUSD":41.1,"LINKETH":112.9,"XMRUSD":159.5,"XRPUSD":34.6},
{"d":"2020-11-11","BTCUSD":120.8,"ETHUSD":261.8,"LTCUSD":44,"LINKETH":103.9,"XMRUSD":154,"XRPUSD":34.3},
{"d":"2020-11-12","BTCUSD":125.2,"ETHUSD":257.9,"LTCUSD":42.8,"LINKETH":97.2,"XMRUSD":148.7,"XRPUSD":33.8},
{"d":"2020-11-13","BTCUSD":127.3,"ETHUSD":265.9,"LTCUSD":58,"LINKETH":99.6,"XMRUSD":153,"XRPUSD":38.2},
{"d":"2020-11-16","BTCUSD":132.9,"ETHUSD":256.7,"LTCUSD":71.3,"LINKETH":99.9,"XMRUSD":160.7,"XRPUSD":48.3},
{"d":"2020-11-17","BTCUSD":145.5,"ETHUSD":272.7,"LTCUSD":79.8,"LINKETH":100.3,"XMRUSD":176.9,"XRPUSD":57.3},
{"d":"2020-11-18","BTCUSD":147.9,"ETHUSD":268.3,"LTCUSD":77.8,"LINKETH":103.2,"XMRUSD":172.3,"XRPUSD":53.2},
{"d":"2020-11-19","BTCUSD":150.3,"ETHUSD":267.1,"LTCUSD":96.2,"LINKETH":110.5,"XMRUSD":163.9,"XRPUSD":57.3},
{"d":"2020-11-20","BTCUSD":158.8,"ETHUSD":295,"LTCUSD":102.7,"LINKETH":103.9,"XMRUSD":170.4,"XRPUSD":70.6},
{"d":"2020-11-23","BTCUSD":155.45,"ETHUSD":359.24,"LTCUSD":109.14,"LINKETH":83.43,"XMRUSD":176.5,"XRPUSD":176.51}
]},
"layer": [
  {"data": {"values": [{"g": -50}, {"g": 0}, {"g": 50}, {"g": 100}, {"g": 150}, {"g": 200}, {"g": 250}, {"g": 300}, {"g": 350}]},
   "mark": {"type": "rule", "color": "#c8c8c8", "strokeWidth": 1.5},
   "encoding": {"y": {"field": "g", "type": "quantitative",
                      "scale": {"domain": [-66.5, 394.6], "nice": false, "zero": false}}}},
  {"transform": [{"fold": ["BTCUSD","ETHUSD","LTCUSD","LINKETH","XMRUSD","XRPUSD"], "as": ["s","v"]}],
   "encoding": {
     "x": {"field": "d", "type": "ordinal",
           "scale": {"type": "point", "padding": 0, "range": [3, 2121]},
           "axis": {"title": null,
                    "values": ["2020-01-01","2020-02-03","2020-03-02","2020-04-01","2020-05-01","2020-06-01","2020-07-01","2020-08-03","2020-09-01","2020-10-01","2020-11-02"],
                    "labelExpr": "utcFormat(toDate(datum.value), \"%b '%y\")",
                    "labelAngle": 0, "labelOverlap": false, "labelFont": "Open Sans", "labelFontSize": 23.5,
                    "labelColor": "#444444", "labelPadding": 6,
                    "grid": true, "gridColor": "#c8c8c8", "gridWidth": 1.5,
                    "domainColor": "#c0c0c0", "domainWidth": 2,
                    "ticks": true, "tickColor": "#c8c8c8", "tickWidth": 1.5, "tickSize": 10}},
     "y": {"field": "v", "type": "quantitative",
           "scale": {"domain": [-66.5, 394.6], "nice": false, "zero": false},
           "axis": {"title": null, "orient": "right",
                    "values": [-50,0,50,100,150,200,250,300,350],
                    "labelExpr": "format(datum.value, '.2f') + ' %'",
                    "labelFont": "Open Sans", "labelFontSize": 23.5, "labelColor": "#444444",
                    "labelPadding": 21, "ticks": false, "grid": false,
                    "domainColor": "#c8c8c8", "domainWidth": 2}},
     "color": {"field": "s", "type": "nominal",
               "scale": {"domain": ["BTCUSD","ETHUSD","LTCUSD","LINKETH","XMRUSD","XRPUSD"],
                         "range": ["#000000","#7b5cff","#ff6a00","#0000ff","#a0a0a0","#e8291c"]},
               "legend": {"orient": "none", "legendX": -4.5, "legendY": 21.5, "direction": "horizontal",
                          "title": null, "padding": 0, "symbolSize": 0, "symbolOpacity": 0, "symbolStrokeWidth": 0,
                          "labelOffset": 0, "columnPadding": 5.5,
                          "labelFont": "Liberation Sans", "labelFontSize": 24, "labelFontWeight": "bold",
                          "labelExpr": "'^' + datum.label",
                          "encode": {"labels": {"update": {"fill": {"scale": "color", "field": "value"}}}}}}
   },
   "layer": [
     {"mark": {"type": "line", "strokeWidth": 2, "strokeJoin": "round"}},
     {"transform": [{"filter": "datum.d == '2020-11-23' && datum.s != 'XMRUSD'"}],
      "mark": {"type": "point", "filled": true, "opacity": 1, "size": 17161, "xOffset": 89, "strokeWidth": 0},
      "encoding": {"shape": {"condition": {"test": "datum.v < 100", "value": "M-1,0L-0.8,-0.29L0.817,-0.29L0.817,0.29L-0.8,0.29Z"},
                             "value": "M-1,0L-0.8,-0.29L1,-0.29L1,0.29L-0.8,0.29Z"}}},
     {"transform": [{"filter": "datum.d == '2020-11-23' && datum.s != 'XMRUSD'"},
                    {"calculate": "format(datum.v, '.2f') + ' %'", "as": "lbl"}],
      "mark": {"type": "text", "align": "left", "baseline": "middle", "dx": 45, "font": "DejaVu Sans",
               "fontSize": 19, "fontWeight": "bold"},
      "encoding": {"text": {"field": "lbl"}, "color": {"value": "white"}}}
   ]}
]
}
